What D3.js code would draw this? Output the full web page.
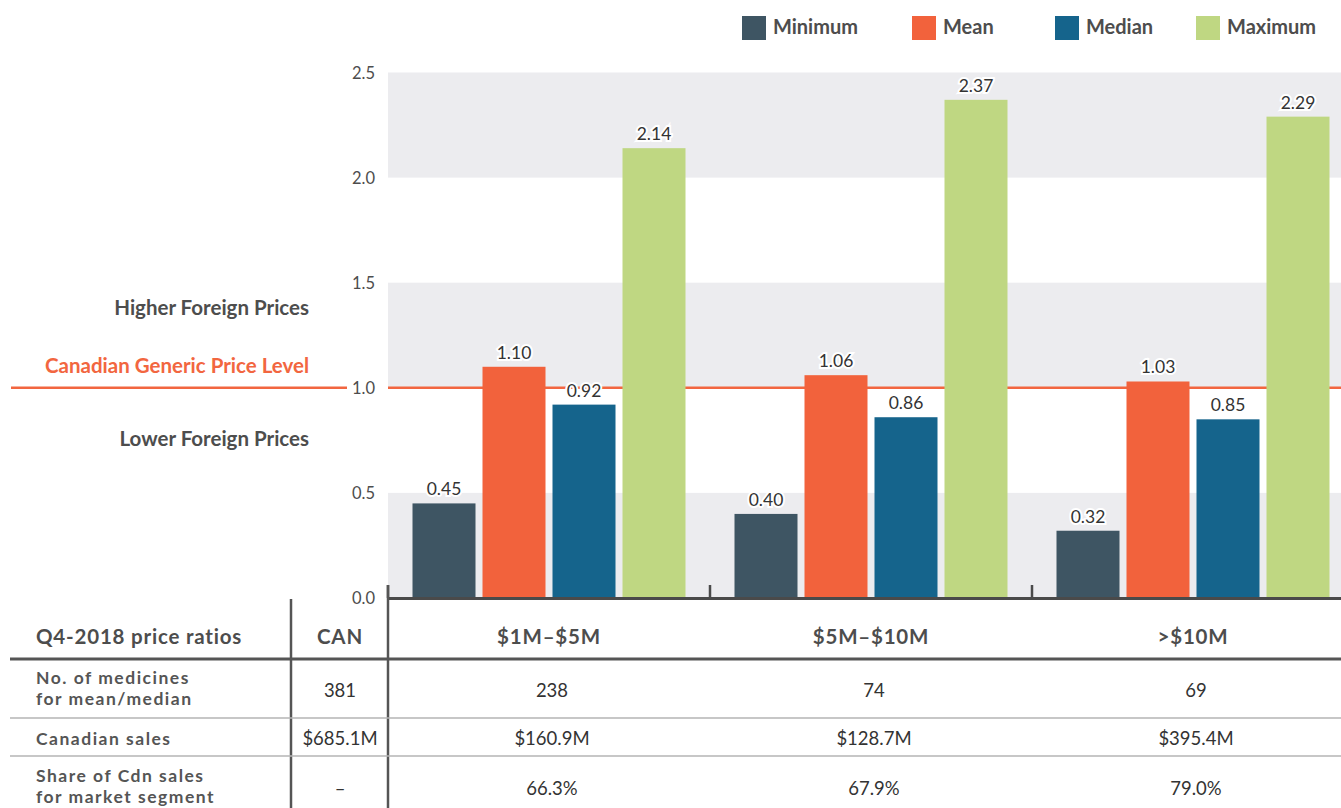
<!DOCTYPE html>
<html><head><meta charset="utf-8">
<script src="https://cdn.jsdelivr.net/npm/d3@7"></script>
<style>
body{margin:0;background:#fff;}
svg{display:block;font-family:Lato, "Open Sans", sans-serif;}
</style></head>
<body>
<svg id="chart" width="1341" height="808"></svg>
<script>
// ---- data ----
const groups = ["$1M–$5M", "$5M–$10M", ">$10M"];
const seriesNames = ["Minimum", "Mean", "Median", "Maximum"];
const minimum = [0.45, 0.40, 0.32];
const mean    = [1.10, 1.06, 1.03];
const median  = [0.92, 0.86, 0.85];
const maximum = [2.14, 2.37, 2.29];
const yTicks = [0, 0.5, 1.0, 1.5, 2.0, 2.5];
const colors = ["#3e5563", "#f2623c", "#15648c", "#bfd782"];

const tableHeader = ["Q4-2018 price ratios", "CAN"];
const rowLabels = [["No. of medicines", "for mean/median"], ["Canadian sales"], ["Share of Cdn sales", "for market segment"]];
const canValues = ["381", "$685.1M", "–"];
const medicinesCount = ["238", "74", "69"];
const canadianSales = ["$160.9M", "$128.7M", "$395.4M"];
const shareOfSales = ["66.3%", "67.9%", "79.0%"];

const seriesValues = [minimum, mean, median, maximum];

const svg = d3.select("#chart");
const textCol = "#4d4d4d";
const red = "#f26640";

const y = d3.scaleLinear().domain([0, 2.5]).range([598, 72.5]);
const x0 = d3.scaleBand().domain(groups).range([388, 1354]).padding(0);
const x1 = d3.scaleBand().domain(seriesNames).range([24.5, x0.bandwidth() - 24.5]).paddingInner(0.1).paddingOuter(0);

// gray bands
const bandPairs = [[0, 0.5], [1.0, 1.5], [2.0, 2.5]];
svg.append("g").selectAll("rect").data(bandPairs).join("rect")
  .attr("x", 388).attr("width", 1341 - 388)
  .attr("y", d => y(d[1])).attr("height", d => y(d[0]) - y(d[1]))
  .attr("fill", "#ececef");

// red reference line
svg.append("line").attr("x1", 11).attr("x2", 347).attr("y1", y(1)).attr("y2", y(1))
  .attr("stroke", red).attr("stroke-width", 2.5);
svg.append("line").attr("x1", 388).attr("x2", 1341).attr("y1", y(1)).attr("y2", y(1))
  .attr("stroke", red).attr("stroke-width", 2.5);

// bars
const barData = [];
groups.forEach((g, gi) => seriesNames.forEach((s, si) => barData.push({g, s, si, v: seriesValues[si][gi]})));
svg.append("g").selectAll("rect").data(barData).join("rect")
  .attr("x", d => x0(d.g) + x1(d.s)).attr("width", x1.bandwidth())
  .attr("y", d => y(d.v)).attr("height", d => y(0) - y(d.v))
  .attr("fill", d => colors[d.si]);

// value labels
svg.append("g").selectAll("text").data(barData).join("text")
  .attr("x", d => x0(d.g) + x1(d.s) + x1.bandwidth() / 2)
  .attr("y", d => y(d.v) - 8)
  .attr("text-anchor", "middle")
  .attr("font-size", 17.5).attr("fill", "#333")
  .attr("stroke", "#fff").attr("stroke-width", 4).attr("paint-order", "stroke")
  .text(d => d.v.toFixed(2));

// y axis labels
const yAxis = d3.axisLeft(y).tickValues(yTicks).tickFormat(d3.format(".1f")).tickSize(0).tickPadding(0);
const ya = svg.append("g").attr("transform", "translate(375,0)").call(yAxis);
ya.select(".domain").remove();
ya.selectAll("text").attr("font-size", 16.5).attr("fill", textCol).attr("font-family", "Lato, sans-serif").attr("dy", "0.35em");

// baseline & ticks
svg.append("line").attr("x1", 388).attr("x2", 1341).attr("y1", 598.5).attr("y2", 598.5)
  .attr("stroke", "#4a4a4a").attr("stroke-width", 3);
svg.append("g").selectAll("line").data(groups).join("line")
  .attr("x1", d => x0(d)).attr("x2", d => x0(d)).attr("y1", 585).attr("y2", 598)
  .attr("stroke", "#4a4a4a").attr("stroke-width", 2.5);

// left side annotations
const annot = [["Higher Foreign Prices", 315, textCol], ["Canadian Generic Price Level", 373, red], ["Lower Foreign Prices", 446, textCol]];
svg.append("g").selectAll("text").data(annot).join("text")
  .attr("x", 309).attr("y", d => d[1]).attr("text-anchor", "end")
  .attr("font-size", 20.5).attr("font-weight", 700).attr("fill", d => d[2]).text(d => d[0]);

// legend
const legendX = [742, 912, 1055, 1196];
const lg = svg.append("g").selectAll("g").data(seriesNames).join("g")
  .attr("transform", (d, i) => `translate(${legendX[i]},16)`);
lg.append("rect").attr("width", 24).attr("height", 24).attr("fill", (d, i) => colors[i]);
lg.append("text").attr("x", 31).attr("y", 18).attr("font-size", 20).attr("font-weight", 700)
  .attr("fill", textCol).text(d => d);

// ---- table ----
const tbl = svg.append("g");
// column lines
tbl.append("line").attr("x1", 291).attr("x2", 291).attr("y1", 599).attr("y2", 808).attr("stroke", "#555").attr("stroke-width", 2.5);
tbl.append("line").attr("x1", 388).attr("x2", 388).attr("y1", 585).attr("y2", 808).attr("stroke", "#555").attr("stroke-width", 2.5);
// header bottom line
tbl.append("line").attr("x1", 10).attr("x2", 1341).attr("y1", 659).attr("y2", 659).attr("stroke", "#555").attr("stroke-width", 3);
// row separators
[718, 756].forEach(yy => tbl.append("line").attr("x1", 10).attr("x2", 1341).attr("y1", yy).attr("y2", yy).attr("stroke", "#b4b4b4").attr("stroke-width", 1.5));

// header
const hdrStyle = s => s.attr("font-size", 20.5).attr("font-weight", 700).attr("letter-spacing", 0.8).attr("fill", textCol);
tbl.append("text").attr("x", 36).attr("y", 644).text(tableHeader[0]).call(hdrStyle);
tbl.append("text").attr("x", 340).attr("y", 644).attr("text-anchor", "middle").text(tableHeader[1]).call(hdrStyle);
tbl.selectAll("text.gh").data(groups).join("text").attr("class", "gh")
  .attr("x", d => x0(d) + x0.bandwidth() / 2).attr("y", 644).attr("text-anchor", "middle")
  .text(d => d).call(hdrStyle);

// row labels
const rowY = [[684, 705], [745], [782, 803]];
rowLabels.forEach((lines, ri) => lines.forEach((t, li) =>
  tbl.append("text").attr("x", 36).attr("y", rowY[ri][li]).attr("font-size", 17.5).attr("font-weight", 700)
    .attr("letter-spacing", 1.5).attr("fill", "#555").text(t)));

const valY = [697, 745, 795];
canValues.forEach((v, ri) => tbl.append("text").attr("x", 340).attr("y", valY[ri]).attr("text-anchor", "middle")
  .attr("font-size", 18.5).attr("fill", "#333").text(v));
[medicinesCount, canadianSales, shareOfSales].forEach((arr, ri) =>
  tbl.selectAll(null).data(groups).join("text")
    .attr("x", d => x0(d) + x0.bandwidth() / 2 + 3).attr("y", valY[ri]).attr("text-anchor", "middle")
    .attr("font-size", 18.5).attr("fill", "#333").text((d, gi) => arr[gi]));
</script>
</body></html>
